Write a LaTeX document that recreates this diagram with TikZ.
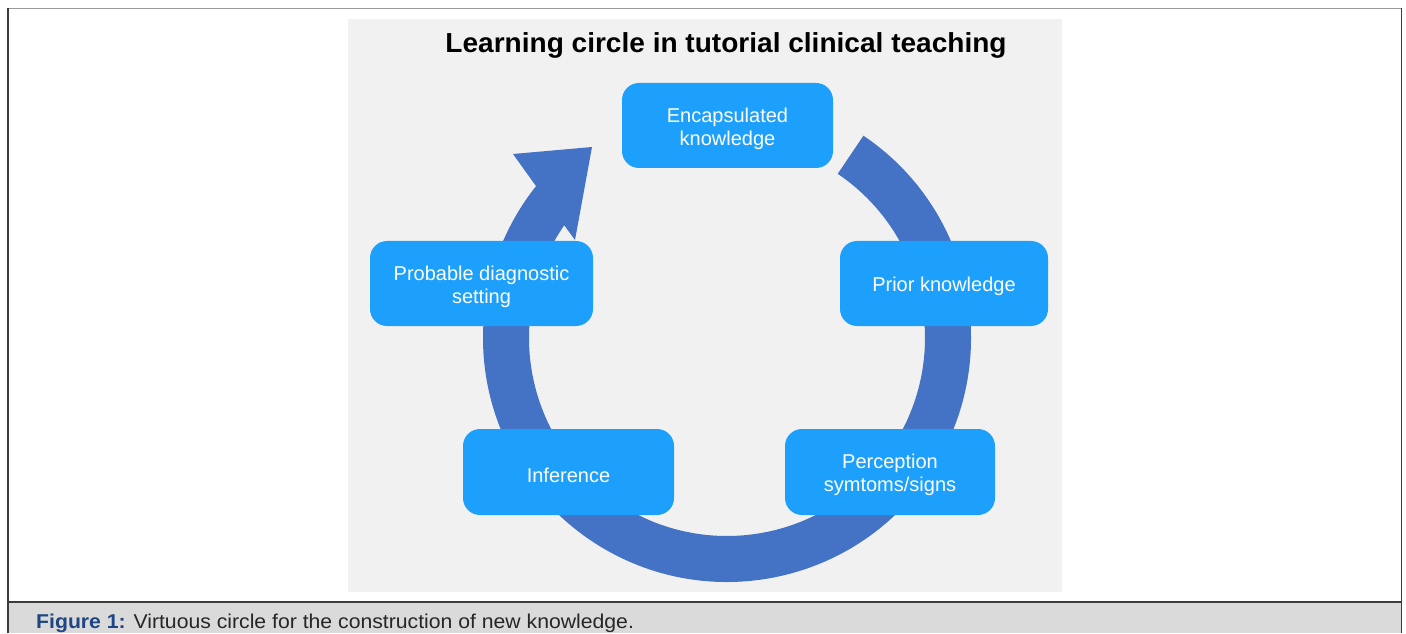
\documentclass[tikz,border=0pt]{standalone}
\usepackage{fontspec}
\setmainfont{Liberation Sans}
\newfontfamily\titlefont[FakeStretch=1.02]{Liberation Sans}
\newfontfamily\capfont[FakeStretch=1.06]{Liberation Sans}
\usetikzlibrary{calc}
\definecolor{panelgray}{RGB}{241,241,241}
\definecolor{capgray}{RGB}{218,218,218}
\definecolor{boxblue}{RGB}{29,160,252}
\definecolor{ringblue}{RGB}{68,114,196}
\definecolor{capblue}{RGB}{31,70,130}
\definecolor{framegray}{RGB}{60,60,60}
\tikzset{
  stagebox/.style={fill=boxblue, rounded corners=17pt, minimum height=85pt, inner sep=0pt},
  stagetext/.style={align=center, text=white, font=\fontsize{20}{23}\selectfont,
    inner sep=0pt, yshift=-3pt},
}
\begin{document}
\begin{tikzpicture}[x=1pt,y=1pt]
\useasboundingbox (0,0) rectangle (1406,633);
% page frame and caption band
\fill[white] (0,0) rectangle (1406,633);
\fill[capgray] (8,0) rectangle (1401.5,31);
\draw[framegray, line width=1.5pt] (8,31) -- (1401.5,31);
\draw[gray!80, line width=1.5pt] (8,624.5) -- (1401.5,624.5);
\draw[framegray, line width=1.2pt] (8,0) -- (8,624.5);
\draw[framegray, line width=1.2pt] (1401.5,0) -- (1401.5,624.5);
% figure panel
\fill[panelgray] (348,41) rectangle (1062,614);
\node[font=\titlefont\fontsize{27.5}{30}\selectfont\bfseries, anchor=base] (title) at (726,580) {Learning circle in tutorial clinical teaching};
% circular arrow
\coordinate (C) at (727,295);
\fill[ringblue] ($(C)+(56:244)$) arc[start angle=56, end angle=-218.5, radius=244]
  -- (513,479) -- (592,486) -- (575,393)
  -- ($(C)+(-214.7:198)$) arc[start angle=-214.7, end angle=56, radius=198] -- cycle;
% stages
\node[stagebox, minimum width=211pt, label={[stagetext]center:Encapsulated\\knowledge}] (enc) at (727.5,507.5) {};
\node[stagebox, minimum width=208pt, label={[stagetext]center:Prior knowledge}] (prior) at (944,349.5) {};
\node[stagebox, minimum width=210pt, minimum height=86pt, label={[stagetext]center:Perception\\symtoms/signs}] (perc) at (890,161) {};
\node[stagebox, minimum width=211pt, minimum height=86pt, label={[stagetext]center:Inference}] (inf) at (568.5,161) {};
\node[stagebox, minimum width=223pt, label={[stagetext]center:Probable diagnostic\\setting}] (prob) at (481.5,349.5) {};
% caption
\node[anchor=base west, inner sep=0pt, font=\capfont\fontsize{20}{22}\selectfont] (cap) at (36,5)
  {\textcolor{capblue}{\bfseries Figure 1:} \textcolor{black!85}{Virtuous circle for the construction of new knowledge.}};
\end{tikzpicture}
\end{document}
